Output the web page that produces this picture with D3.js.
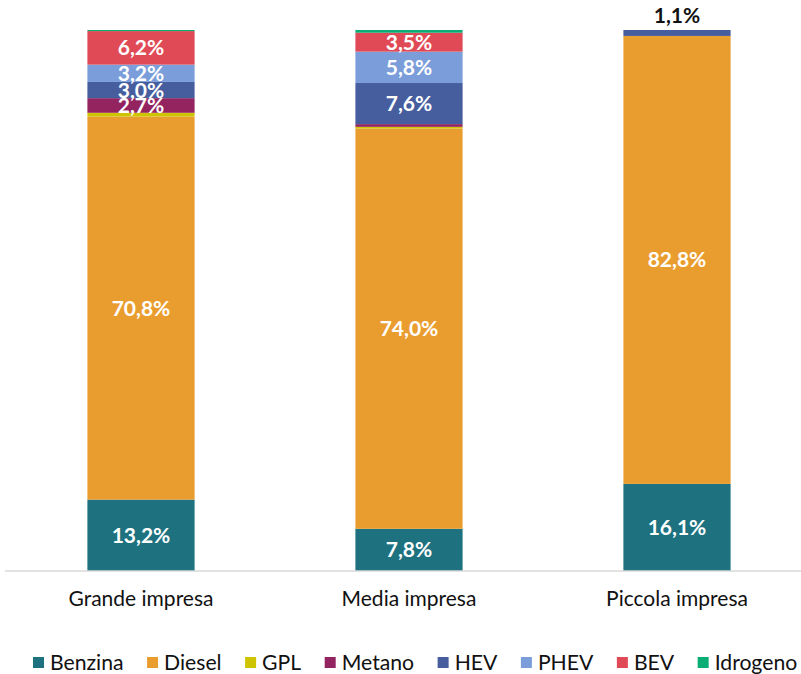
<!DOCTYPE html>
<meta charset="utf-8">
<head>
    <title>Alimentazione per dimensione impresa</title>
    <script type="text/javascript" src="https://cdn.jsdelivr.net/npm/d3@7"></script>
    <style>
        html, body {
            margin: 0;
            padding: 0;
            background: white;
        }
        svg text {
            font-family: Lato, "Open Sans", sans-serif;
        }
    </style>
</head>
<body>
    <div id="chart"></div>
    <script>
        // data (percentages)
        var categories = ["Grande impresa", "Media impresa", "Piccola impresa"];
        var fuels = ["Benzina", "Diesel", "GPL", "Metano", "HEV", "PHEV", "BEV", "Idrogeno"];
        var colors = ["#1e717f", "#ea9d2f", "#cfc400", "#93245f", "#465e9e", "#7b9dd9", "#e04a56", "#0aad73"];

        var benzina  = [13.2, 7.8, 16.1];
        var diesel   = [70.8, 74.0, 82.8];
        var gpl      = [0.7, 0.3, 0];
        var metano   = [2.7, 0.5, 0];
        var hev      = [3.0, 7.6, 1.1];
        var phev     = [3.2, 5.8, 0];
        var bev      = [6.2, 3.5, 0];
        var idrogeno = [0.2, 0.5, 0];

        var series = [benzina, diesel, gpl, metano, hev, phev, bev, idrogeno];

        var width = 801, height = 674;
        var margin = {top: 30, bottom: 103, left: 5, right: 0};
        var fontSize = 21;

        var svg = d3.select("#chart").append("svg")
            .attr("width", width)
            .attr("height", height);

        // table for the stack
        var rows = categories.map(function(c, i) {
            var r = {cat: c};
            fuels.forEach(function(f, j) { r[f] = series[j][i]; });
            return r;
        });
        var stacked = d3.stack().keys(fuels)(rows);

        var x = d3.scaleBand()
            .domain(categories)
            .range([7, 811])
            .paddingInner(0.6)
            .paddingOuter(0.3);

        var y = d3.scaleLinear()
            .domain([0, 100])
            .range([height - margin.bottom, margin.top]);

        var color = d3.scaleOrdinal().domain(fuels).range(colors);
        var fmt = function(v) { return v.toFixed(1).replace(".", ",") + "%"; };

        var layers = svg.append("g").selectAll("g")
            .data(stacked)
            .enter().append("g")
            .attr("fill", function(d) { return color(d.key); });

        layers.selectAll("rect")
            .data(function(d) { return d; })
            .enter().append("rect")
            .attr("x", function(d) { return x(d.data.cat); })
            .attr("width", x.bandwidth())
            .attr("y", function(d) { return y(d[1]); })
            .attr("height", function(d) { return y(d[0]) - y(d[1]); });

        // value labels
        var labels = svg.append("g");
        stacked.forEach(function(layer) {
            layer.forEach(function(d) {
                var v = d[1] - d[0];
                if (v >= 2.5) {
                    labels.append("text")
                        .attr("x", x(d.data.cat) + x.bandwidth() / 2)
                        .attr("y", (y(d[0]) + y(d[1])) / 2)
                        .attr("dy", "0.36em")
                        .attr("text-anchor", "middle")
                        .attr("fill", "white")
                        .attr("font-weight", "bold")
                        .attr("font-size", fontSize)
                        .text(fmt(v));
                } else if (v >= 1 && d[1] >= 99.9) {
                    // small top segment: label above bar
                    labels.append("text")
                        .attr("x", x(d.data.cat) + x.bandwidth() / 2)
                        .attr("y", y(d[1]) - 15)
                        .attr("dy", "0.36em")
                        .attr("text-anchor", "middle")
                        .attr("fill", "#111")
                        .attr("font-weight", "bold")
                        .attr("font-size", fontSize)
                        .text(fmt(v));
                }
            });
        });

        // baseline
        svg.append("line")
            .attr("x1", margin.left).attr("x2", width)
            .attr("y1", y(0)).attr("y2", y(0))
            .attr("stroke", "#d9d9d9")
            .attr("stroke-width", 1.5);

        var xAxis = d3.axisBottom(x).tickSize(0).tickPadding(20);
        var gx = svg.append("g")
            .attr("transform", "translate(0," + y(0) + ")")
            .call(xAxis);
        gx.select(".domain").remove();
        gx.selectAll("text")
            .attr("font-size", fontSize)
            .attr("fill", "#111")
            .style("font-family", "Lato, sans-serif");

        // legend
        var legend = svg.append("g").attr("transform", "translate(33,662)");
        var lx = 0;
        fuels.forEach(function(f) {
            var g = legend.append("g").attr("transform", "translate(" + lx + ",0)");
            g.append("rect")
                .attr("x", 0).attr("y", -5)
                .attr("width", 11).attr("height", 11)
                .attr("fill", color(f));
            var t = g.append("text")
                .attr("x", 17).attr("y", 0)
                .attr("dy", "0.36em")
                .attr("font-size", 21.2)
                .attr("fill", "#111")
                .text(f);
            lx += 17 + t.node().getComputedTextLength() + 23.5;
        });
    </script>
</body>
</html>
